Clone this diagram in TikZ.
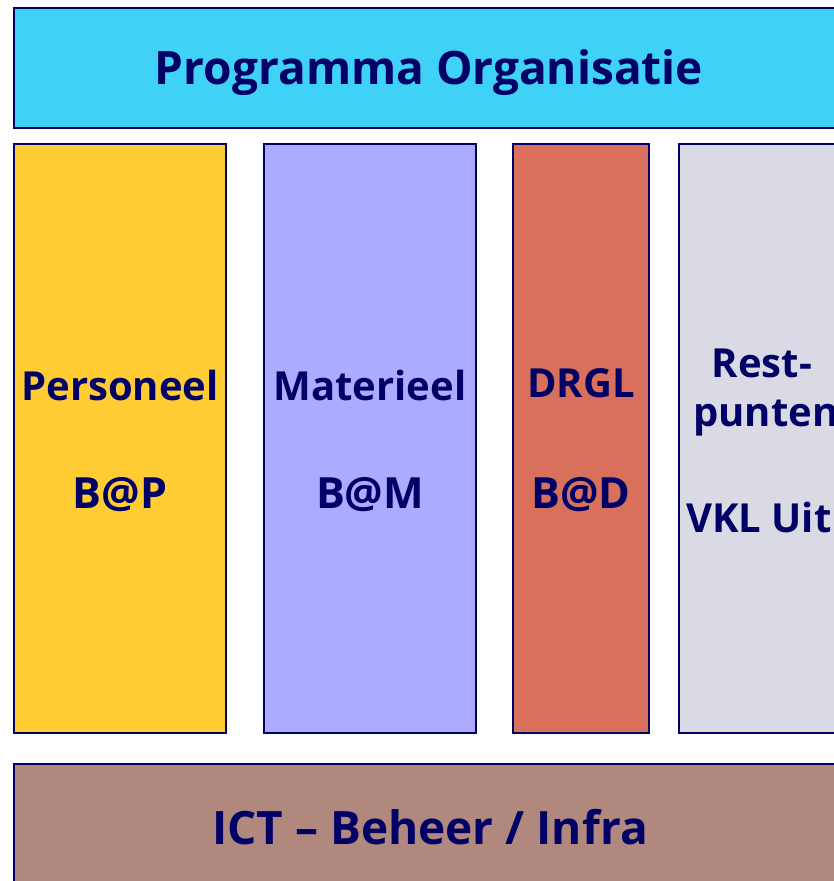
\documentclass[tikz,border=0pt]{standalone}
\usepackage{fontspec}
\setmainfont{Open Sans}
\definecolor{navy}{HTML}{000066}
\definecolor{topc}{HTML}{3FD1F6}
\definecolor{yel}{HTML}{FFCC33}
\definecolor{lav}{HTML}{ABABFF}
\definecolor{drgl}{HTML}{D9705B}
\definecolor{restc}{HTML}{DADAE4}
\definecolor{ictc}{HTML}{B0887D}
\tikzset{
  box/.style={draw=navy, line width=1.6pt, inner sep=0pt},
  big/.style={text=navy, font=\fontsize{46}{48}\selectfont\bfseries, inner sep=0pt},
  col/.style={text=navy, font=\fontsize{40}{42}\selectfont\bfseries, inner sep=0pt},
  colb/.style={text=navy, font=\fontsize{43}{45}\selectfont\bfseries, inner sep=0pt}
}
\begin{document}
\begin{tikzpicture}[x=1pt,y=-1pt]
\useasboundingbox (0,0) rectangle (834,881);
\clip (0,0) rectangle (834,881);
\node[box, fill=topc, minimum width=830pt, minimum height=120pt] (top) at (429,68) {};
\node[big] (toptxt) at (429,73) {Programma Organisatie};
\node[box, fill=yel, minimum width=212pt, minimum height=589pt] (pers) at (120,438.5) {};
\node[box, fill=lav, minimum width=212pt, minimum height=589pt] (mat) at (370,438.5) {};
\node[box, fill=drgl, minimum width=136pt, minimum height=589pt] (drgl) at (581,438.5) {};
\node[box, fill=restc, minimum width=212pt, minimum height=589pt] (rest) at (785,438.5) {};
\node[box, fill=ictc, minimum width=832pt, minimum height=124pt] (ict) at (430,826) {};
\node[big] (icttxt) at (430,827) {ICT – Beheer / Infra};
\node[col] (p1) at (120,385) {Personeel};
\node[colb] (p2) at (120,495) {B@P};
\node[col] (m1) at (370,385) {Materieel};
\node[colb] (m2) at (370,495) {B@M};
\node[col] (d1) at (581,383) {DRGL};
\node[colb] (d2) at (581,495) {B@D};
\node[col] (r1) at (762,363) {Rest-};
\node[col, anchor=west] (r2) at (693,418) {punten};
\node[col, anchor=west] (r3) at (686,517) {VKL Uit};
\end{tikzpicture}
\end{document}
